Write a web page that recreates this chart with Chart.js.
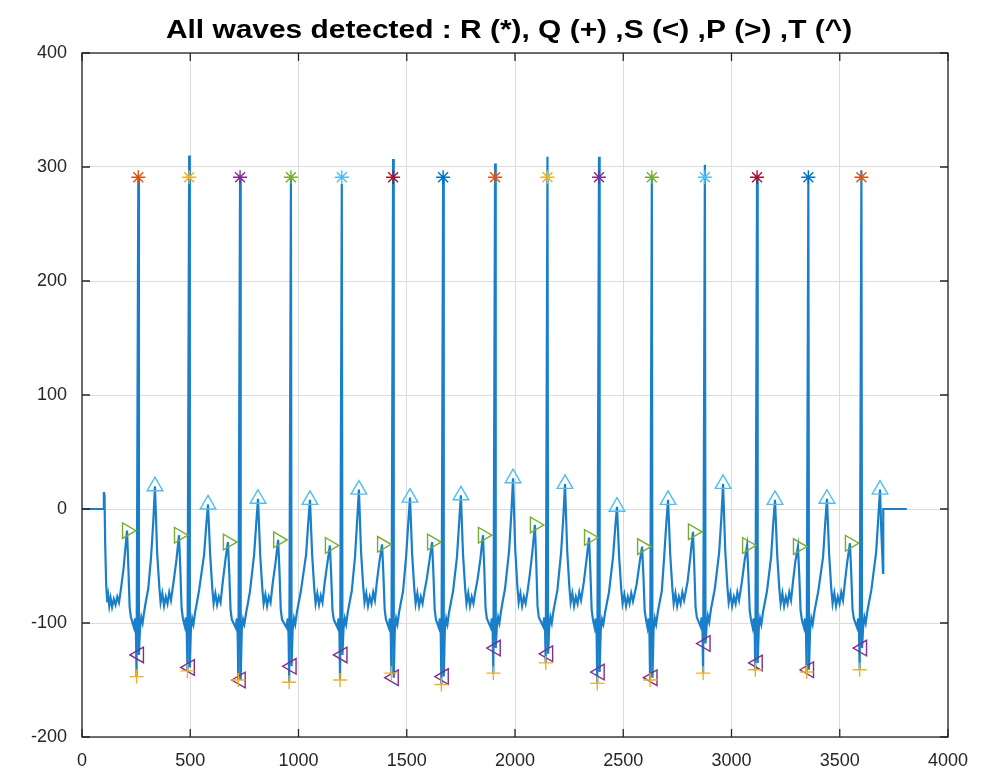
<!DOCTYPE html>
<html>
<head>
<meta charset="utf-8">
<script src="https://cdn.jsdelivr.net/npm/chart.js@4.4.1/dist/chart.umd.min.js"></script>
<style>
  body { margin: 0; background: #fff; }
  #caja { width: 982px; height: 781px; }
</style>
</head>
<body>
<div id="caja"><canvas id="myChart"></canvas></div>
<script>
// ECG signal (sample index, amplitude)
const ecg = [
[0,0],[100,0],[101,15],[104,12],[107,-30],[112,-68],[117,-82],[121,-76],[126,-85],[132,-78],[139,-86],[147,-79],[155,-84],[163,-77],[171,-82],[180,-70],[192,-52],[200,-35],
[208,-19],[214,-50],[220,-86],[226,-95],[240,-104],[245,-96],[249,-108],[252,-147],[260,290],[263,-128],[268,-104],[274,-95],[280,-100],[288,-89],[296,-80],[306,-70],[319,-42],[329,-12],[337,20],
[347,-38],[357,-68],[363,-82],[371,-74],[379,-85],[387,-77],[395,-83],[403,-73],[411,-80],[423,-64],[436,-45],
[448,-23],[454,-52],[460,-87],[466,-96],[475,-103],[480,-95],[484,-109],[487,-142],[495,310],[498,-139],[503,-106],[509,-96],[515,-101],[523,-90],[531,-82],[541,-71],[564,-40],[574,-14],[582,4],
[592,-40],[602,-70],[608,-83],[616,-74],[624,-84],[632,-77],[640,-82],[649,-66],[662,-45],
[674,-29],[680,-55],[686,-88],[692,-97],[710,-104],[715,-96],[719,-110],[722,-150],[730,290],[733,-150],[738,-106],[744,-97],[750,-101],[758,-91],[766,-83],[776,-72],[795,-40],[805,-12],[813,9],
[823,-40],[833,-70],[839,-83],[847,-75],[855,-85],[863,-77],[871,-82],[881,-65],[894,-47],
[906,-27],[912,-54],[918,-88],[924,-97],[945,-104],[950,-96],[954,-110],[957,-152],[965,290],[968,-138],[973,-106],[979,-96],[985,-101],[993,-90],[1001,-82],[1011,-72],[1035,-40],[1045,-12],[1053,8],
[1063,-40],[1073,-70],[1079,-83],[1087,-74],[1095,-84],[1103,-76],[1111,-82],[1120,-66],[1133,-48],
[1145,-32],[1151,-58],[1157,-89],[1163,-97],[1180,-104],[1185,-96],[1189,-109],[1192,-150],[1200,285],[1203,-128],[1208,-105],[1214,-96],[1220,-101],[1228,-90],[1236,-82],[1246,-72],[1261,-42],[1271,-10],[1279,17],
[1289,-38],[1299,-68],[1305,-82],[1313,-74],[1321,-85],[1329,-77],[1337,-83],[1345,-73],[1353,-80],[1362,-64],[1374,-46],
[1386,-31],[1392,-57],[1398,-88],[1404,-97],[1417,-104],[1422,-96],[1426,-109],[1429,-144],[1437,307],[1440,-148],[1445,-106],[1451,-96],[1457,-101],[1465,-90],[1473,-82],[1483,-72],[1497,-42],[1507,-12],[1515,10],
[1525,-40],[1535,-70],[1541,-83],[1549,-74],[1557,-85],[1565,-77],[1573,-83],[1582,-72],[1592,-62],[1605,-45],
[1617,-29],[1623,-56],[1629,-88],[1635,-97],[1648,-104],[1653,-96],[1657,-110],[1660,-154],[1668,290],[1671,-147],[1676,-106],[1682,-96],[1688,-101],[1696,-90],[1704,-82],[1714,-72],[1732,-42],[1742,-12],[1750,12],
[1760,-40],[1770,-70],[1776,-83],[1784,-74],[1792,-85],[1800,-77],[1808,-83],[1817,-72],[1827,-62],[1840,-44],
[1852,-23],[1858,-52],[1864,-87],[1870,-96],[1888,-104],[1893,-96],[1897,-108],[1900,-144],[1908,303],[1911,-122],[1916,-104],[1922,-95],[1928,-100],[1936,-89],[1944,-80],[1954,-70],[1973,-36],[1983,-4],[1991,27],
[2001,-35],[2011,-68],[2017,-82],[2025,-74],[2033,-85],[2041,-77],[2049,-83],[2058,-72],[2068,-58],[2080,-38],
[2092,-14],[2098,-46],[2104,-85],[2110,-95],[2130,-103],[2135,-95],[2139,-108],[2142,-135],[2150,309],[2153,-127],[2158,-104],[2164,-95],[2170,-100],[2178,-89],[2186,-81],[2196,-71],[2213,-38],[2223,-8],[2231,22],
[2241,-36],[2251,-68],[2257,-82],[2265,-74],[2273,-85],[2281,-77],[2289,-83],[2297,-73],[2305,-80],[2318,-64],[2330,-45],
[2342,-25],[2348,-54],[2354,-88],[2360,-97],[2368,-104],[2373,-96],[2377,-110],[2380,-153],[2388,309],[2391,-143],[2396,-106],[2402,-97],[2408,-101],[2416,-91],[2424,-83],[2434,-73],[2453,-42],[2463,-16],[2471,2],
[2481,-42],[2491,-71],[2497,-83],[2505,-75],[2513,-85],[2521,-77],[2529,-83],[2537,-74],[2545,-81],[2562,-66],[2575,-48],
[2587,-33],[2593,-58],[2599,-89],[2605,-97],[2612,-104],[2617,-96],[2621,-110],[2624,-150],[2632,290],[2635,-148],[2640,-106],[2646,-96],[2652,-101],[2660,-90],[2668,-82],[2678,-72],[2689,-42],[2699,-12],[2707,8],
[2717,-40],[2727,-70],[2733,-83],[2741,-74],[2749,-85],[2757,-77],[2765,-83],[2773,-73],[2781,-80],[2797,-64],[2810,-42],
[2822,-20],[2828,-50],[2834,-86],[2840,-95],[2857,-103],[2862,-95],[2866,-108],[2869,-144],[2877,302],[2880,-118],[2885,-103],[2891,-94],[2897,-99],[2905,-88],[2913,-80],[2923,-70],[2943,-38],[2953,-8],[2961,22],
[2971,-36],[2981,-68],[2987,-82],[2995,-74],[3003,-85],[3011,-77],[3019,-83],[3027,-73],[3035,-80],[3048,-64],[3060,-46],
[3072,-32],[3078,-58],[3084,-89],[3090,-97],[3098,-104],[3103,-96],[3107,-108],[3110,-141],[3118,290],[3121,-135],[3126,-105],[3132,-96],[3138,-101],[3146,-90],[3154,-82],[3164,-72],[3183,-42],[3193,-12],[3201,8],
[3211,-40],[3221,-70],[3227,-83],[3235,-74],[3243,-85],[3251,-77],[3259,-83],[3267,-73],[3275,-80],[3284,-64],[3295,-46],
[3307,-33],[3313,-58],[3319,-89],[3325,-97],[3335,-104],[3340,-96],[3344,-109],[3347,-143],[3355,290],[3358,-141],[3363,-106],[3369,-96],[3375,-101],[3383,-90],[3391,-82],[3401,-72],[3423,-42],[3433,-12],[3441,9],
[3451,-40],[3461,-70],[3467,-83],[3475,-74],[3483,-85],[3491,-77],[3499,-83],[3507,-73],[3515,-80],[3524,-64],[3535,-46],
[3547,-30],[3553,-56],[3559,-88],[3565,-96],[3580,-104],[3585,-96],[3589,-108],[3592,-141],[3600,297],[3603,-122],[3608,-104],[3614,-95],[3620,-100],[3628,-89],[3636,-81],[3646,-71],[3668,-38],[3678,-8],[3686,17],
[3692,-20],[3700,-56],[3701,0],[3810,0]
];

// detected waves
const rX = [260,495,730,965,1200,1437,1668,1908,2150,2388,2632,2877,3118,3355,3600];
const rY = [291,291,291,291,291,291,291,291,291,291,291,291,291,291,291];
const qX = [252,487,722,957,1192,1429,1660,1900,2142,2380,2624,2869,3110,3347,3592];
const qY = [-147,-142,-150,-152,-150,-144,-154,-144,-135,-153,-150,-144,-141,-143,-141];
const sX = [263,498,733,968,1203,1440,1671,1911,2153,2391,2635,2880,3121,3358,3603];
const sY = [-128,-139,-150,-138,-128,-148,-147,-122,-127,-143,-148,-118,-135,-141,-122];
const pX = [208,448,674,906,1145,1386,1617,1852,2092,2342,2587,2822,3072,3307,3547];
const pY = [-19,-23,-29,-27,-32,-31,-29,-23,-14,-25,-33,-20,-32,-33,-30];
const tX = [337,582,813,1053,1279,1515,1750,1991,2231,2471,2707,2961,3201,3441,3686];
const tY = [20,4,9,8,17,10,12,27,22,2,8,22,8,9,17];

// each R peak was plotted on its own, so it takes the next colour of the order
const rColors = ['#D95319','#EDB120','#7E2F8E','#77AC30','#4DBEEE','#A2142F','#0072BD',
                 '#D95319','#EDB120','#7E2F8E','#77AC30','#4DBEEE','#A2142F','#0072BD','#D95319'];

const xTicks = [0,500,1000,1500,2000,2500,3000,3500,4000];
const yTicks = [-200,-100,0,100,200,300,400];

const titulo = 'All waves detected : R (*), Q (+) ,S (<) ,P (>) ,T (^)';

function puntos(xs, ys){
    return xs.map((v, i) => ({x: v, y: ys[i]}));
}

function marcas(label, xs, ys, color, estilo, giro, radio){
    return {
        type: 'scatter',
        label: label,
        data: puntos(xs, ys),
        showLine: false,
        pointStyle: estilo,
        rotation: giro,
        radius: radio,
        borderColor: color,
        backgroundColor: 'rgba(0,0,0,0)',
        borderWidth: 1.4,
        order: 0
    };
}

// MATLAB style box with inward ticks, and the title over the axes
const caja = {
    id: 'caja',
    afterDatasetsDraw(chart){
        const {ctx, chartArea: a, scales} = chart;
        ctx.save();
        ctx.strokeStyle = '#262626';
        ctx.lineWidth = 1.3;
        ctx.beginPath();
        scales.x.ticks.forEach(t => {
            const px = scales.x.getPixelForValue(t.value);
            ctx.moveTo(px, a.bottom); ctx.lineTo(px, a.bottom - 8);
            ctx.moveTo(px, a.top); ctx.lineTo(px, a.top + 8);
        });
        scales.y.ticks.forEach(t => {
            const py = scales.y.getPixelForValue(t.value);
            ctx.moveTo(a.left, py); ctx.lineTo(a.left + 8, py);
            ctx.moveTo(a.right, py); ctx.lineTo(a.right - 8, py);
        });
        ctx.stroke();
        ctx.strokeRect(a.left, a.top, a.right - a.left, a.bottom - a.top);

        ctx.fillStyle = '#000';
        ctx.font = 'bold 26px "Liberation Sans"';
        ctx.textAlign = 'center';
        ctx.textBaseline = 'middle';
        ctx.translate((a.left + a.right) / 2 - 6, 31);
        ctx.scale(1.15, 1);
        ctx.fillText(titulo, 0, 0);
        ctx.restore();
    }
};

const fuenteEje = { family: 'Liberation Sans', size: 18 };

function mostrarGrafico(){
    const ctx = document.getElementById('myChart').getContext('2d');

    const datasets = [{
        type: 'line',
        label: 'ECG',
        data: ecg.map(p => ({x: p[0], y: p[1]})),
        borderColor: '#1a7fca',
        borderWidth: 2.2,
        pointRadius: 0,
        tension: 0,
        order: 1
    }];

    for(let i=0;i<rX.length;i++){
        datasets.push(marcas('R', [rX[i]], [rY[i]], rColors[i], 'star', 0, 7));
    }
    datasets.push(marcas('Q', qX, qY, '#EDB120', 'cross', 0, 7));
    datasets.push(marcas('S', sX, sY, '#7E2F8E', 'triangle', -90, 9));
    datasets.push(marcas('P', pX, pY, '#77AC30', 'triangle', 90, 9));
    datasets.push(marcas('T', tX, tY, '#4DBEEE', 'triangle', 0, 9));

    new Chart(ctx, {
        type: 'scatter',
        data: { datasets: datasets },
        options: {
            responsive: true,
            maintainAspectRatio: false,
            animation: false,
            layout: { padding: { left: 0, right: 34, top: 53, bottom: 0 } },
            scales: {
                x: {
                    type: 'linear',
                    min: 0, max: 4000,
                    afterBuildTicks: s => { s.ticks = xTicks.map(v => ({value: v})); },
                    afterFit: s => { s.height = 44; },
                    grid: { color: '#dcdcdc', drawTicks: false },
                    border: { display: false },
                    ticks: { padding: 13, color: '#262626', font: fuenteEje, callback: v => String(v) }
                },
                y: {
                    type: 'linear',
                    min: -200, max: 400,
                    afterBuildTicks: s => { s.ticks = yTicks.map(v => ({value: v})); },
                    afterFit: s => { s.width = 82; },
                    grid: { color: '#dcdcdc', drawTicks: false },
                    border: { display: false },
                    ticks: { padding: 15, color: '#262626', font: fuenteEje, callback: v => String(v) }
                }
            },
            plugins: {
                legend: { display: false },
                tooltip: { enabled: false },
                title: { display: false }
            }
        },
        plugins: [caja]
    });
}

window.addEventListener('load', mostrarGrafico);
</script>
</body>
</html>
